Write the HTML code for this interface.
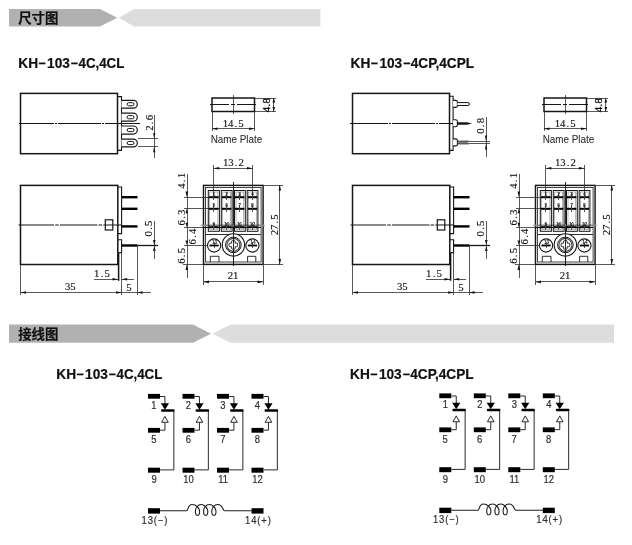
<!DOCTYPE html>
<html lang="zh"><head><meta charset="utf-8"><title>KH-103 尺寸图 接线图</title>
<style>html,body{margin:0;padding:0;background:#fff}body{width:632px;height:545px;overflow:hidden}svg{display:block;will-change:transform}</style></head><body>
<svg width="632" height="545" viewBox="0 0 632 545">
<rect width="632" height="545" fill="#fff"/>
<polygon points="9,9 100,9 117.3,17.8 100,26.6 9,26.6" fill="#b1b1b1"/>
<polygon points="118.8,17.8 134,9 320.4,9 320.4,26.6 134,26.6" fill="#dcdddd"/>
<text x="18.2" y="22.6" font-family='"Liberation Sans", "Noto Sans CJK SC", sans-serif' font-size="13.4" font-weight="bold" text-anchor="start" fill="#111"  stroke="#111" stroke-width="0.2">尺寸图</text>
<polygon points="9,324.6 193,324.6 211,333.70000000000005 193,342.8 9,342.8" fill="#b1b1b1"/>
<polygon points="212.5,333.70000000000005 230.5,324.6 614,324.6 614,342.8 230.5,342.8" fill="#dcdddd"/>
<text x="18.2" y="338.8" font-family='"Liberation Sans", "Noto Sans CJK SC", sans-serif' font-size="13.4" font-weight="bold" text-anchor="start" fill="#111"  stroke="#111" stroke-width="0.2">接线图</text>
<text x="18.3" y="68" font-family='"Liberation Sans", sans-serif' font-size="14" font-weight="bold" text-anchor="start" fill="#111"  textLength="19.8" lengthAdjust="spacingAndGlyphs" stroke="#111" stroke-width="0.2">KH</text>
<text x="38.2" y="68" font-family='"Liberation Sans", sans-serif' font-size="14" font-weight="bold" text-anchor="start" fill="#111"  textLength="7.4" lengthAdjust="spacingAndGlyphs" stroke="#111" stroke-width="0.2">−</text>
<text x="47.1" y="68" font-family='"Liberation Sans", sans-serif' font-size="14" font-weight="bold" text-anchor="start" fill="#111"  textLength="22.8" lengthAdjust="spacingAndGlyphs" stroke="#111" stroke-width="0.2">103</text>
<text x="70.6" y="68" font-family='"Liberation Sans", sans-serif' font-size="14" font-weight="bold" text-anchor="start" fill="#111"  textLength="7.4" lengthAdjust="spacingAndGlyphs" stroke="#111" stroke-width="0.2">−</text>
<text x="78.5" y="68" font-family='"Liberation Sans", sans-serif' font-size="14" font-weight="bold" text-anchor="start" fill="#111"  textLength="45.8" lengthAdjust="spacingAndGlyphs" stroke="#111" stroke-width="0.2">4C,4CL</text>
<text x="350.6" y="67.8" font-family='"Liberation Sans", sans-serif' font-size="14" font-weight="bold" text-anchor="start" fill="#111"  textLength="19.8" lengthAdjust="spacingAndGlyphs" stroke="#111" stroke-width="0.2">KH</text>
<text x="370.5" y="67.8" font-family='"Liberation Sans", sans-serif' font-size="14" font-weight="bold" text-anchor="start" fill="#111"  textLength="7.4" lengthAdjust="spacingAndGlyphs" stroke="#111" stroke-width="0.2">−</text>
<text x="379.40000000000003" y="67.8" font-family='"Liberation Sans", sans-serif' font-size="14" font-weight="bold" text-anchor="start" fill="#111"  textLength="22.8" lengthAdjust="spacingAndGlyphs" stroke="#111" stroke-width="0.2">103</text>
<text x="402.90000000000003" y="67.8" font-family='"Liberation Sans", sans-serif' font-size="14" font-weight="bold" text-anchor="start" fill="#111"  textLength="7.4" lengthAdjust="spacingAndGlyphs" stroke="#111" stroke-width="0.2">−</text>
<text x="410.8" y="67.8" font-family='"Liberation Sans", sans-serif' font-size="14" font-weight="bold" text-anchor="start" fill="#111"  textLength="63.3" lengthAdjust="spacingAndGlyphs" stroke="#111" stroke-width="0.2">4CP,4CPL</text>
<text x="56.3" y="379.0" font-family='"Liberation Sans", sans-serif' font-size="14" font-weight="bold" text-anchor="start" fill="#111"  textLength="19.8" lengthAdjust="spacingAndGlyphs" stroke="#111" stroke-width="0.2">KH</text>
<text x="76.2" y="379.0" font-family='"Liberation Sans", sans-serif' font-size="14" font-weight="bold" text-anchor="start" fill="#111"  textLength="7.4" lengthAdjust="spacingAndGlyphs" stroke="#111" stroke-width="0.2">−</text>
<text x="85.1" y="379.0" font-family='"Liberation Sans", sans-serif' font-size="14" font-weight="bold" text-anchor="start" fill="#111"  textLength="22.8" lengthAdjust="spacingAndGlyphs" stroke="#111" stroke-width="0.2">103</text>
<text x="108.6" y="379.0" font-family='"Liberation Sans", sans-serif' font-size="14" font-weight="bold" text-anchor="start" fill="#111"  textLength="7.4" lengthAdjust="spacingAndGlyphs" stroke="#111" stroke-width="0.2">−</text>
<text x="116.5" y="379.0" font-family='"Liberation Sans", sans-serif' font-size="14" font-weight="bold" text-anchor="start" fill="#111"  textLength="45.8" lengthAdjust="spacingAndGlyphs" stroke="#111" stroke-width="0.2">4C,4CL</text>
<text x="350.1" y="379.2" font-family='"Liberation Sans", sans-serif' font-size="14" font-weight="bold" text-anchor="start" fill="#111"  textLength="19.8" lengthAdjust="spacingAndGlyphs" stroke="#111" stroke-width="0.2">KH</text>
<text x="370.0" y="379.2" font-family='"Liberation Sans", sans-serif' font-size="14" font-weight="bold" text-anchor="start" fill="#111"  textLength="7.4" lengthAdjust="spacingAndGlyphs" stroke="#111" stroke-width="0.2">−</text>
<text x="378.90000000000003" y="379.2" font-family='"Liberation Sans", sans-serif' font-size="14" font-weight="bold" text-anchor="start" fill="#111"  textLength="22.8" lengthAdjust="spacingAndGlyphs" stroke="#111" stroke-width="0.2">103</text>
<text x="402.40000000000003" y="379.2" font-family='"Liberation Sans", sans-serif' font-size="14" font-weight="bold" text-anchor="start" fill="#111"  textLength="7.4" lengthAdjust="spacingAndGlyphs" stroke="#111" stroke-width="0.2">−</text>
<text x="410.3" y="379.2" font-family='"Liberation Sans", sans-serif' font-size="14" font-weight="bold" text-anchor="start" fill="#111"  textLength="63.3" lengthAdjust="spacingAndGlyphs" stroke="#111" stroke-width="0.2">4CP,4CPL</text>
<g>
<rect x="20.5" y="93.4" width="97" height="60.3" fill="none" stroke="#161616" stroke-width="1.5" rx="0"/>
<line x1="18.5" y1="123.5" x2="140" y2="123.5" stroke="#161616" stroke-width="1.0" stroke-dasharray="36 1 2 1 42.5 1 2 1 60" shape-rendering="crispEdges"/>
<path d="M117.5,96.6 H121.5 V150.4 H117.5" fill="none" stroke="#161616" stroke-width="1.1"/>
<path d="M121.5,100.3 H133.4 A3.8999999999999986,3.8999999999999986 0 0 1 133.4,108.1 H121.5" fill="#fff" stroke="#161616" stroke-width="1.2"/>
<rect x="127.1" y="102.64999999999999" width="6.9" height="3.1" fill="none" stroke="#161616" stroke-width="1.0" rx="1.55"/>
<path d="M121.5,113.2 H133.3 A4.0,4.0 0 0 1 133.3,121.2 H121.5" fill="#fff" stroke="#161616" stroke-width="1.2"/>
<rect x="127.1" y="115.65" width="6.9" height="3.1" fill="none" stroke="#161616" stroke-width="1.0" rx="1.55"/>
<path d="M121.5,126 H133.25 A4.049999999999997,4.049999999999997 0 0 1 133.25,134.1 H121.5" fill="#fff" stroke="#161616" stroke-width="1.2"/>
<rect x="127.1" y="128.5" width="6.9" height="3.1" fill="none" stroke="#161616" stroke-width="1.0" rx="1.55"/>
<path d="M121.5,139.1 H133.4 A3.9000000000000057,3.9000000000000057 0 0 1 133.4,146.9 H121.5" fill="#fff" stroke="#161616" stroke-width="1.2"/>
<rect x="127.1" y="141.45" width="6.9" height="3.1" fill="none" stroke="#161616" stroke-width="1.0" rx="1.55"/>
<line x1="137.5" y1="138.7" x2="158" y2="138.7" stroke="#2e2e2e" stroke-width="0.8"  shape-rendering="crispEdges"/>
<line x1="137.5" y1="146.5" x2="158" y2="146.5" stroke="#2e2e2e" stroke-width="0.8"  shape-rendering="crispEdges"/>
<line x1="154.2" y1="114.5" x2="154.2" y2="158.4" stroke="#2e2e2e" stroke-width="0.8"  shape-rendering="crispEdges"/>
<polygon points="154.2,138.7 153.1,132.89999999999998 155.29999999999998,132.89999999999998" fill="#111"/>
<polygon points="154.2,146.5 153.1,152.3 155.29999999999998,152.3" fill="#111"/>
<text x="147.40 152.60 157.80" y="122.8" font-family='"Liberation Serif", serif' font-size="10.8" text-anchor="middle" fill="#111" stroke="#111" stroke-width="0.13" transform="rotate(-90 152.6 122.8)">2.6</text>
<rect x="20.5" y="185.4" width="97.3" height="79.1" fill="none" stroke="#161616" stroke-width="1.5" rx="0"/>
<line x1="18.5" y1="225" x2="121" y2="225" stroke="#161616" stroke-width="1.1" stroke-dasharray="35.5 1.2 3.5 1.2 37.5 1.2 3.5 1.2 40"/>
<rect x="105.3" y="219.8" width="7.5" height="10.2" fill="none" stroke="#161616" stroke-width="1.2" rx="0"/>
<path d="M117.8,187 H121.6 V233.6 H117.8" fill="none" stroke="#161616" stroke-width="1.1"/>
<path d="M117.8,239.8 H121.6 V252.6 H119" fill="none" stroke="#161616" stroke-width="1.1"/>
<line x1="121.6" y1="197.2" x2="137.5" y2="197.2" stroke="#000" stroke-width="2.4" />
<line x1="121.6" y1="208.8" x2="137.5" y2="208.8" stroke="#000" stroke-width="2.4" />
<line x1="121.6" y1="226.4" x2="137.5" y2="226.4" stroke="#000" stroke-width="2.4" />
<line x1="121.6" y1="245.5" x2="137.5" y2="245.5" stroke="#000" stroke-width="2.4" />
<line x1="137.5" y1="245.5" x2="158" y2="245.5" stroke="#161616" stroke-width="1.3" />
<line x1="154.3" y1="221" x2="154.3" y2="258.8" stroke="#2e2e2e" stroke-width="0.8"  shape-rendering="crispEdges"/>
<polygon points="154.3,244.9 153.0,239.9 155.60000000000002,239.9" fill="#111"/>
<polygon points="154.3,246.1 153.0,251.1 155.60000000000002,251.1" fill="#111"/>
<text x="146.40 151.60 156.80" y="228.5" font-family='"Liberation Serif", serif' font-size="10.8" text-anchor="middle" fill="#111" stroke="#111" stroke-width="0.13" transform="rotate(-90 151.6 228.5)">0.5</text>
<line x1="118.6" y1="252.5" x2="118.6" y2="280.8" stroke="#161616" stroke-width="1.5" />
<line x1="121.2" y1="252" x2="121.2" y2="295" stroke="#2e2e2e" stroke-width="0.8"  shape-rendering="crispEdges"/>
<line x1="93.8" y1="279.3" x2="118" y2="279.3" stroke="#2e2e2e" stroke-width="0.8"  shape-rendering="crispEdges"/>
<polygon points="118,279.3 112.5,278.0 112.5,280.6" fill="#111"/>
<line x1="121.7" y1="279.3" x2="133.8" y2="279.3" stroke="#2e2e2e" stroke-width="0.8"  shape-rendering="crispEdges"/>
<polygon points="121.7,279.3 127.2,278.0 127.2,280.6" fill="#111"/>
<text x="96.80 102.00 107.20" y="277" font-family='"Liberation Serif", serif' font-size="10.8" text-anchor="middle" fill="#111" stroke="#111" stroke-width="0.13">1.5</text>
<line x1="20.5" y1="264.5" x2="20.5" y2="295" stroke="#2e2e2e" stroke-width="0.8"  shape-rendering="crispEdges"/>
<line x1="20.5" y1="292.5" x2="121.7" y2="292.5" stroke="#2e2e2e" stroke-width="0.8"  shape-rendering="crispEdges"/>
<polygon points="20.5,292.5 26.0,291.2 26.0,293.8" fill="#111"/>
<polygon points="121.7,292.5 116.2,291.2 116.2,293.8" fill="#111"/>
<text x="67.70 72.90" y="290.4" font-family='"Liberation Serif", serif' font-size="10.8" text-anchor="middle" fill="#111" stroke="#111" stroke-width="0.13">35</text>
<line x1="137.1" y1="245" x2="137.1" y2="295" stroke="#2e2e2e" stroke-width="0.8"  shape-rendering="crispEdges"/>
<line x1="121.7" y1="292.5" x2="151" y2="292.5" stroke="#2e2e2e" stroke-width="0.8"  shape-rendering="crispEdges"/>
<polygon points="137.1,292.5 142.6,291.2 142.6,293.8" fill="#111"/>
<text x="129.00" y="290.6" font-family='"Liberation Serif", serif' font-size="10.8" text-anchor="middle" fill="#111" stroke="#111" stroke-width="0.13">5</text>
<rect x="212" y="98" width="42.5" height="13.5" fill="none" stroke="#161616" stroke-width="1.5" rx="0"/>
<line x1="210" y1="104.5" x2="257" y2="104.5" stroke="#161616" stroke-width="1.0" stroke-dasharray="19 2 3.5 2" shape-rendering="crispEdges"/>
<line x1="233.3" y1="95" x2="233.3" y2="113.8" stroke="#161616" stroke-width="0.7"  shape-rendering="crispEdges"/>
<line x1="254.5" y1="98" x2="275.5" y2="98" stroke="#2e2e2e" stroke-width="0.8"  shape-rendering="crispEdges"/>
<line x1="254.5" y1="111.5" x2="275.5" y2="111.5" stroke="#2e2e2e" stroke-width="0.8"  shape-rendering="crispEdges"/>
<line x1="273.8" y1="98" x2="273.8" y2="111.5" stroke="#2e2e2e" stroke-width="0.8"  shape-rendering="crispEdges"/>
<polygon points="273.8,98 272.5,102.5 275.1,102.5" fill="#111"/>
<polygon points="273.8,111.5 272.5,107.0 275.1,107.0" fill="#111"/>
<text x="265.50 269.90 274.30" y="105.1" font-family='"Liberation Serif", serif' font-size="10.8" text-anchor="middle" fill="#111" stroke="#111" stroke-width="0.35" transform="rotate(-90 269.9 105.1)">4.8</text>
<line x1="212" y1="111.5" x2="212" y2="131" stroke="#2e2e2e" stroke-width="0.8"  shape-rendering="crispEdges"/>
<line x1="254.5" y1="111.5" x2="254.5" y2="131" stroke="#2e2e2e" stroke-width="0.8"  shape-rendering="crispEdges"/>
<line x1="212" y1="128.8" x2="254.5" y2="128.8" stroke="#2e2e2e" stroke-width="0.8"  shape-rendering="crispEdges"/>
<polygon points="212,128.8 217.5,127.50000000000001 217.5,130.10000000000002" fill="#111"/>
<polygon points="254.5,128.8 249.0,127.50000000000001 249.0,130.10000000000002" fill="#111"/>
<text x="225.40 230.60 235.80 241.00" y="126.6" font-family='"Liberation Serif", serif' font-size="10.8" text-anchor="middle" fill="#111" stroke="#111" stroke-width="0.13">14.5</text>
<text x="236.5" y="142.7" font-family='"Liberation Sans", sans-serif' font-size="10.4" font-weight="normal" text-anchor="middle" fill="#333"  textLength="51.6" lengthAdjust="spacingAndGlyphs" stroke="#333" stroke-width="0.1">Name Plate</text>
<rect x="203.5" y="185.4" width="59.6" height="79.0" fill="none" stroke="#161616" stroke-width="1.45" rx="0"/>
<rect x="205.5" y="187.5" width="55.6" height="74.5" fill="none" stroke="#161616" stroke-width="0.8" rx="0"/>
<line x1="213.8" y1="165" x2="213.8" y2="196" stroke="#2e2e2e" stroke-width="0.8"  shape-rendering="crispEdges"/>
<line x1="252.5" y1="165" x2="252.5" y2="196" stroke="#2e2e2e" stroke-width="0.8"  shape-rendering="crispEdges"/>
<line x1="213.8" y1="168.2" x2="252.5" y2="168.2" stroke="#2e2e2e" stroke-width="0.8"  shape-rendering="crispEdges"/>
<polygon points="213.8,168.2 219.3,166.89999999999998 219.3,169.5" fill="#111"/>
<polygon points="252.5,168.2 247.0,166.89999999999998 247.0,169.5" fill="#111"/>
<text x="225.70 230.90 236.10 241.30" y="165.5" font-family='"Liberation Serif", serif' font-size="10.8" text-anchor="middle" fill="#111" stroke="#111" stroke-width="0.13">13.2</text>
<line x1="233.3" y1="182" x2="233.3" y2="266" stroke="#161616" stroke-width="0.9"  shape-rendering="crispEdges"/>
<line x1="263.5" y1="185.3" x2="283" y2="185.3" stroke="#2e2e2e" stroke-width="0.8"  shape-rendering="crispEdges"/>
<line x1="263.5" y1="264.4" x2="283" y2="264.4" stroke="#2e2e2e" stroke-width="0.8"  shape-rendering="crispEdges"/>
<line x1="279.8" y1="185" x2="279.8" y2="264.5" stroke="#2e2e2e" stroke-width="0.8"  shape-rendering="crispEdges"/>
<polygon points="279.8,185 278.5,190.5 281.1,190.5" fill="#111"/>
<polygon points="279.8,264.5 278.5,259.0 281.1,259.0" fill="#111"/>
<text x="270.20 275.40 280.60 285.80" y="224.8" font-family='"Liberation Serif", serif' font-size="10.8" text-anchor="middle" fill="#111" stroke="#111" stroke-width="0.13" transform="rotate(-90 278 224.8)">27.5</text>
<line x1="203.5" y1="264.5" x2="203.5" y2="285" stroke="#2e2e2e" stroke-width="0.8"  shape-rendering="crispEdges"/>
<line x1="263" y1="264.5" x2="263" y2="285" stroke="#2e2e2e" stroke-width="0.8"  shape-rendering="crispEdges"/>
<line x1="203.5" y1="281.9" x2="263" y2="281.9" stroke="#2e2e2e" stroke-width="0.8"  shape-rendering="crispEdges"/>
<polygon points="203.5,281.9 209.0,280.59999999999997 209.0,283.2" fill="#111"/>
<polygon points="263,281.9 257.5,280.59999999999997 257.5,283.2" fill="#111"/>
<text x="230.50 235.70" y="279.2" font-family='"Liberation Serif", serif' font-size="10.8" text-anchor="middle" fill="#111" stroke="#111" stroke-width="0.13">21</text>
<line x1="187" y1="174" x2="187" y2="277.5" stroke="#2e2e2e" stroke-width="0.8"  shape-rendering="crispEdges"/>
<line x1="184" y1="197" x2="220" y2="197" stroke="#2e2e2e" stroke-width="0.8"  shape-rendering="crispEdges"/>
<line x1="184" y1="208.8" x2="220" y2="208.8" stroke="#2e2e2e" stroke-width="0.8"  shape-rendering="crispEdges"/>
<line x1="183.5" y1="227.2" x2="203" y2="227.2" stroke="#2e2e2e" stroke-width="0.8"  shape-rendering="crispEdges"/>
<line x1="201.5" y1="225.3" x2="264.5" y2="225.3" stroke="#8a8a8a" stroke-width="1.8" />
<line x1="203" y1="227.2" x2="261" y2="227.2" stroke="#111" stroke-width="1.0"  shape-rendering="crispEdges"/>
<line x1="184" y1="245" x2="218" y2="245" stroke="#2e2e2e" stroke-width="0.8"  shape-rendering="crispEdges"/>
<line x1="183" y1="264.5" x2="203" y2="264.5" stroke="#2e2e2e" stroke-width="0.8"  shape-rendering="crispEdges"/>
<polygon points="186.8,197 185.5,191.5 188.10000000000002,191.5" fill="#111"/>
<polygon points="186.8,208.8 185.5,213.3 188.10000000000002,213.3" fill="#111"/>
<polygon points="186.8,227.2 185.5,222.7 188.10000000000002,222.7" fill="#111"/>
<polygon points="186.8,245 185.5,240.5 188.10000000000002,240.5" fill="#111"/>
<polygon points="186.8,264.5 185.5,270.0 188.10000000000002,270.0" fill="#111"/>
<text x="179.80 185.00 190.20" y="180.8" font-family='"Liberation Serif", serif' font-size="10.8" text-anchor="middle" fill="#111" stroke="#111" stroke-width="0.13" transform="rotate(-90 185 180.8)">4.1</text>
<text x="179.80 185.00 190.20" y="217.5" font-family='"Liberation Serif", serif' font-size="10.8" text-anchor="middle" fill="#111" stroke="#111" stroke-width="0.13" transform="rotate(-90 185 217.5)">6.3</text>
<text x="190.80 196.00 201.20" y="236.5" font-family='"Liberation Serif", serif' font-size="10.8" text-anchor="middle" fill="#111" stroke="#111" stroke-width="0.13" transform="rotate(-90 196 236.5)">6.4</text>
<text x="179.80 185.00 190.20" y="255.8" font-family='"Liberation Serif", serif' font-size="10.8" text-anchor="middle" fill="#111" stroke="#111" stroke-width="0.13" transform="rotate(-90 185 255.8)">6.5</text>
<rect x="208.3" y="190.5" width="11.099999999999994" height="40.8" fill="none" stroke="#161616" stroke-width="1.0" rx="0"/>
<rect x="209.8" y="192" width="8.099999999999994" height="37.8" fill="none" stroke="#6a6a6a" stroke-width="0.5" rx="0"/>
<rect x="221.3" y="190.5" width="10.799999999999983" height="40.8" fill="none" stroke="#161616" stroke-width="1.0" rx="0"/>
<rect x="222.8" y="192" width="7.799999999999983" height="37.8" fill="none" stroke="#6a6a6a" stroke-width="0.5" rx="0"/>
<rect x="234.5" y="190.5" width="10.800000000000011" height="40.8" fill="none" stroke="#161616" stroke-width="1.0" rx="0"/>
<rect x="236.0" y="192" width="7.800000000000011" height="37.8" fill="none" stroke="#6a6a6a" stroke-width="0.5" rx="0"/>
<rect x="247.2" y="190.5" width="10.699999999999989" height="40.8" fill="none" stroke="#161616" stroke-width="1.0" rx="0"/>
<rect x="248.7" y="192" width="7.699999999999989" height="37.8" fill="none" stroke="#6a6a6a" stroke-width="0.5" rx="0"/>
<line x1="209.10000000000002" y1="197.2" x2="218.5" y2="197.2" stroke="#000" stroke-width="2.0" />
<line x1="213.8" y1="193.39999999999998" x2="213.8" y2="200.2" stroke="#444" stroke-width="0.9"  shape-rendering="crispEdges"/>
<text x="213.8" y="195.6" font-family='"Liberation Sans", sans-serif' font-size="5" font-weight="bold" text-anchor="middle" fill="#222" >1</text>
<line x1="222.0" y1="197.2" x2="231.39999999999998" y2="197.2" stroke="#000" stroke-width="2.0" />
<line x1="226.7" y1="193.39999999999998" x2="226.7" y2="200.2" stroke="#444" stroke-width="0.9"  shape-rendering="crispEdges"/>
<text x="226.7" y="195.6" font-family='"Liberation Sans", sans-serif' font-size="5" font-weight="bold" text-anchor="middle" fill="#222" >2</text>
<line x1="235.0" y1="197.2" x2="244.39999999999998" y2="197.2" stroke="#000" stroke-width="2.0" />
<line x1="239.7" y1="193.39999999999998" x2="239.7" y2="200.2" stroke="#444" stroke-width="0.9"  shape-rendering="crispEdges"/>
<text x="239.7" y="195.6" font-family='"Liberation Sans", sans-serif' font-size="5" font-weight="bold" text-anchor="middle" fill="#222" >3</text>
<line x1="247.8" y1="197.2" x2="257.2" y2="197.2" stroke="#000" stroke-width="2.0" />
<line x1="252.5" y1="193.39999999999998" x2="252.5" y2="200.2" stroke="#444" stroke-width="0.9"  shape-rendering="crispEdges"/>
<text x="252.5" y="195.6" font-family='"Liberation Sans", sans-serif' font-size="5" font-weight="bold" text-anchor="middle" fill="#222" >4</text>
<line x1="209.10000000000002" y1="208.8" x2="218.5" y2="208.8" stroke="#000" stroke-width="2.0" />
<line x1="213.8" y1="205.0" x2="213.8" y2="211.8" stroke="#444" stroke-width="0.9"  shape-rendering="crispEdges"/>
<text x="213.8" y="207.20000000000002" font-family='"Liberation Sans", sans-serif' font-size="5" font-weight="bold" text-anchor="middle" fill="#222" >5</text>
<line x1="222.0" y1="208.8" x2="231.39999999999998" y2="208.8" stroke="#000" stroke-width="2.0" />
<line x1="226.7" y1="205.0" x2="226.7" y2="211.8" stroke="#444" stroke-width="0.9"  shape-rendering="crispEdges"/>
<text x="226.7" y="207.20000000000002" font-family='"Liberation Sans", sans-serif' font-size="5" font-weight="bold" text-anchor="middle" fill="#222" >6</text>
<line x1="235.0" y1="208.8" x2="244.39999999999998" y2="208.8" stroke="#000" stroke-width="2.0" />
<line x1="239.7" y1="205.0" x2="239.7" y2="211.8" stroke="#444" stroke-width="0.9"  shape-rendering="crispEdges"/>
<text x="239.7" y="207.20000000000002" font-family='"Liberation Sans", sans-serif' font-size="5" font-weight="bold" text-anchor="middle" fill="#222" >7</text>
<line x1="247.8" y1="208.8" x2="257.2" y2="208.8" stroke="#000" stroke-width="2.0" />
<line x1="252.5" y1="205.0" x2="252.5" y2="211.8" stroke="#444" stroke-width="0.9"  shape-rendering="crispEdges"/>
<text x="252.5" y="207.20000000000002" font-family='"Liberation Sans", sans-serif' font-size="5" font-weight="bold" text-anchor="middle" fill="#222" >8</text>
<line x1="209.10000000000002" y1="227.2" x2="218.5" y2="227.2" stroke="#000" stroke-width="2.0" />
<line x1="213.8" y1="223.39999999999998" x2="213.8" y2="230.2" stroke="#444" stroke-width="0.9"  shape-rendering="crispEdges"/>
<text x="213.8" y="225.6" font-family='"Liberation Sans", sans-serif' font-size="5" font-weight="bold" text-anchor="middle" fill="#222" >9</text>
<line x1="222.0" y1="227.2" x2="231.39999999999998" y2="227.2" stroke="#000" stroke-width="2.0" />
<line x1="226.7" y1="223.39999999999998" x2="226.7" y2="230.2" stroke="#444" stroke-width="0.9"  shape-rendering="crispEdges"/>
<text x="226.7" y="225.6" font-family='"Liberation Sans", sans-serif' font-size="5" font-weight="bold" text-anchor="middle" fill="#222" >10</text>
<line x1="235.0" y1="227.2" x2="244.39999999999998" y2="227.2" stroke="#000" stroke-width="2.0" />
<line x1="239.7" y1="223.39999999999998" x2="239.7" y2="230.2" stroke="#444" stroke-width="0.9"  shape-rendering="crispEdges"/>
<text x="239.7" y="225.6" font-family='"Liberation Sans", sans-serif' font-size="5" font-weight="bold" text-anchor="middle" fill="#222" >11</text>
<line x1="247.8" y1="227.2" x2="257.2" y2="227.2" stroke="#000" stroke-width="2.0" />
<line x1="252.5" y1="223.39999999999998" x2="252.5" y2="230.2" stroke="#444" stroke-width="0.9"  shape-rendering="crispEdges"/>
<text x="252.5" y="225.6" font-family='"Liberation Sans", sans-serif' font-size="5" font-weight="bold" text-anchor="middle" fill="#222" >12</text>
<line x1="205.6" y1="234.1" x2="260.9" y2="234.1" stroke="#161616" stroke-width="0.9"  shape-rendering="crispEdges"/>
<circle cx="214.1" cy="245.5" r="6.6" fill="#fff" stroke="#161616" stroke-width="1.1"/>
<line x1="209.5" y1="245.5" x2="218.7" y2="245.5" stroke="#000" stroke-width="1.8" />
<line x1="214.1" y1="242.3" x2="214.1" y2="248.2" stroke="#161616" stroke-width="0.7"  shape-rendering="crispEdges"/>
<text x="214.6" y="244.2" font-family='"Liberation Sans", sans-serif' font-size="4.6" font-weight="bold" text-anchor="middle" fill="#222" >13</text>
<circle cx="252.4" cy="245.5" r="6.6" fill="#fff" stroke="#161616" stroke-width="1.1"/>
<line x1="247.8" y1="245.5" x2="257.0" y2="245.5" stroke="#000" stroke-width="1.8" />
<line x1="252.4" y1="242.3" x2="252.4" y2="248.2" stroke="#161616" stroke-width="0.7"  shape-rendering="crispEdges"/>
<text x="252.9" y="244.2" font-family='"Liberation Sans", sans-serif' font-size="4.6" font-weight="bold" text-anchor="middle" fill="#222" >14</text>
<circle cx="233.4" cy="244.9" r="11.2" fill="#fff" stroke="#161616" stroke-width="1.1"/>
<circle cx="233.4" cy="244.9" r="7.8" fill="none" stroke="#161616" stroke-width="1.0"/>
<circle cx="233.4" cy="244.9" r="6.5" fill="none" stroke="#444" stroke-width="1.1"/>
<path d="M232.5,240.6 H234.3 Q235.20000000000002,240.6 235.20000000000002,241.5 V243.1 H236.8 Q237.70000000000002,243.1 237.70000000000002,244.0 V245.8 Q237.70000000000002,246.70000000000002 236.8,246.70000000000002 H235.20000000000002 V248.3 Q235.20000000000002,249.20000000000002 234.3,249.20000000000002 H232.5 Q231.6,249.20000000000002 231.6,248.3 V246.70000000000002 H230.0 Q229.1,246.70000000000002 229.1,245.8 V244.0 Q229.1,243.1 230.0,243.1 H231.6 V241.5 Q231.6,240.6 232.5,240.6 Z" fill="#fff" stroke="#161616" stroke-width="0.9"/>
<line x1="233.3" y1="231" x2="233.3" y2="266" stroke="#161616" stroke-width="0.9"  shape-rendering="crispEdges"/>
<path d="M210.3,262 V256.3 H219 V262 M247.6,262 V256.3 H255.8 V262" fill="none" stroke="#161616" stroke-width="0.9"/>
</g>
<g>
<rect x="352.5" y="93.4" width="97" height="60.3" fill="none" stroke="#161616" stroke-width="1.5" rx="0"/>
<line x1="349.5" y1="123.5" x2="470" y2="123.5" stroke="#161616" stroke-width="1.0" stroke-dasharray="38.5 1 2 1 42.5 1 2 1 60" shape-rendering="crispEdges"/>
<path d="M449.5,96.2 H453.1 V150.4 H449.5" fill="none" stroke="#161616" stroke-width="1.1"/>
<path d="M453.1,100.4 H455.5 Q457.4,100.4 457.4,102.10000000000001 V105.7 Q457.4,107.4 455.5,107.4 H453.1" fill="#fff" stroke="#161616" stroke-width="1.1"/>
<path d="M453.1,119.8 H455.5 Q457.4,119.8 457.4,121.5 V125.1 Q457.4,126.8 455.5,126.8 H453.1" fill="#fff" stroke="#161616" stroke-width="1.1"/>
<path d="M453.1,138.9 H455.5 Q457.4,138.9 457.4,140.6 V144.20000000000002 Q457.4,145.9 455.5,145.9 H453.1" fill="#fff" stroke="#161616" stroke-width="1.1"/>
<path d="M457.4,102.6 H468 A1.45,1.45 0 0 1 468,105.5 H457.4" fill="#fff" stroke="#161616" stroke-width="1"/>
<path d="M457.4,122.2 H467 L472,123.5 L467,124.8 H457.4 Z" fill="#161616"/>
<path d="M457.4,141.2 H469 M457.4,143.8 H469" fill="none" stroke="#161616" stroke-width="1"/>
<line x1="457.4" y1="142.5" x2="468" y2="142.5" stroke="#777" stroke-width="1.2" />
<line x1="469" y1="141.2" x2="490" y2="141.2" stroke="#2e2e2e" stroke-width="0.8"  shape-rendering="crispEdges"/>
<line x1="469" y1="143.8" x2="490" y2="143.8" stroke="#2e2e2e" stroke-width="0.8"  shape-rendering="crispEdges"/>
<line x1="486" y1="116.5" x2="486" y2="157" stroke="#2e2e2e" stroke-width="0.8"  shape-rendering="crispEdges"/>
<polygon points="486,141.2 484.9,135.39999999999998 487.1,135.39999999999998" fill="#111"/>
<polygon points="486,143.8 484.9,149.60000000000002 487.1,149.60000000000002" fill="#111"/>
<text x="478.80 484.00 489.20" y="125.8" font-family='"Liberation Serif", serif' font-size="10.8" text-anchor="middle" fill="#111" stroke="#111" stroke-width="0.13" transform="rotate(-90 484 125.8)">0.8</text>
</g>
<g transform="translate(332,0)">
<rect x="20.5" y="185.4" width="97.3" height="79.1" fill="none" stroke="#161616" stroke-width="1.5" rx="0"/>
<line x1="18.5" y1="225" x2="121" y2="225" stroke="#161616" stroke-width="1.1" stroke-dasharray="35.5 1.2 3.5 1.2 37.5 1.2 3.5 1.2 40"/>
<rect x="105.3" y="219.8" width="7.5" height="10.2" fill="none" stroke="#161616" stroke-width="1.2" rx="0"/>
<path d="M117.8,187 H121.6 V233.6 H117.8" fill="none" stroke="#161616" stroke-width="1.1"/>
<path d="M117.8,239.8 H121.6 V252.6 H119" fill="none" stroke="#161616" stroke-width="1.1"/>
<line x1="121.6" y1="197.2" x2="137.5" y2="197.2" stroke="#000" stroke-width="2.4" />
<line x1="121.6" y1="208.8" x2="137.5" y2="208.8" stroke="#000" stroke-width="2.4" />
<line x1="121.6" y1="226.4" x2="137.5" y2="226.4" stroke="#000" stroke-width="2.4" />
<line x1="121.6" y1="245.5" x2="137.5" y2="245.5" stroke="#000" stroke-width="2.4" />
<line x1="137.5" y1="245.5" x2="158" y2="245.5" stroke="#161616" stroke-width="1.3" />
<line x1="154.3" y1="221" x2="154.3" y2="258.8" stroke="#2e2e2e" stroke-width="0.8"  shape-rendering="crispEdges"/>
<polygon points="154.3,244.9 153.0,239.9 155.60000000000002,239.9" fill="#111"/>
<polygon points="154.3,246.1 153.0,251.1 155.60000000000002,251.1" fill="#111"/>
<text x="146.40 151.60 156.80" y="228.5" font-family='"Liberation Serif", serif' font-size="10.8" text-anchor="middle" fill="#111" stroke="#111" stroke-width="0.13" transform="rotate(-90 151.6 228.5)">0.5</text>
<line x1="118.6" y1="252.5" x2="118.6" y2="280.8" stroke="#161616" stroke-width="1.5" />
<line x1="121.2" y1="252" x2="121.2" y2="295" stroke="#2e2e2e" stroke-width="0.8"  shape-rendering="crispEdges"/>
<line x1="93.8" y1="279.3" x2="118" y2="279.3" stroke="#2e2e2e" stroke-width="0.8"  shape-rendering="crispEdges"/>
<polygon points="118,279.3 112.5,278.0 112.5,280.6" fill="#111"/>
<line x1="121.7" y1="279.3" x2="133.8" y2="279.3" stroke="#2e2e2e" stroke-width="0.8"  shape-rendering="crispEdges"/>
<polygon points="121.7,279.3 127.2,278.0 127.2,280.6" fill="#111"/>
<text x="96.80 102.00 107.20" y="277" font-family='"Liberation Serif", serif' font-size="10.8" text-anchor="middle" fill="#111" stroke="#111" stroke-width="0.13">1.5</text>
<line x1="20.5" y1="264.5" x2="20.5" y2="295" stroke="#2e2e2e" stroke-width="0.8"  shape-rendering="crispEdges"/>
<line x1="20.5" y1="292.5" x2="121.7" y2="292.5" stroke="#2e2e2e" stroke-width="0.8"  shape-rendering="crispEdges"/>
<polygon points="20.5,292.5 26.0,291.2 26.0,293.8" fill="#111"/>
<polygon points="121.7,292.5 116.2,291.2 116.2,293.8" fill="#111"/>
<text x="67.70 72.90" y="290.4" font-family='"Liberation Serif", serif' font-size="10.8" text-anchor="middle" fill="#111" stroke="#111" stroke-width="0.13">35</text>
<line x1="137.1" y1="245" x2="137.1" y2="295" stroke="#2e2e2e" stroke-width="0.8"  shape-rendering="crispEdges"/>
<line x1="121.7" y1="292.5" x2="151" y2="292.5" stroke="#2e2e2e" stroke-width="0.8"  shape-rendering="crispEdges"/>
<polygon points="137.1,292.5 142.6,291.2 142.6,293.8" fill="#111"/>
<text x="129.00" y="290.6" font-family='"Liberation Serif", serif' font-size="10.8" text-anchor="middle" fill="#111" stroke="#111" stroke-width="0.13">5</text>
<rect x="212" y="98" width="42.5" height="13.5" fill="none" stroke="#161616" stroke-width="1.5" rx="0"/>
<line x1="210" y1="104.5" x2="257" y2="104.5" stroke="#161616" stroke-width="1.0" stroke-dasharray="19 2 3.5 2" shape-rendering="crispEdges"/>
<line x1="233.3" y1="95" x2="233.3" y2="113.8" stroke="#161616" stroke-width="0.7"  shape-rendering="crispEdges"/>
<line x1="254.5" y1="98" x2="275.5" y2="98" stroke="#2e2e2e" stroke-width="0.8"  shape-rendering="crispEdges"/>
<line x1="254.5" y1="111.5" x2="275.5" y2="111.5" stroke="#2e2e2e" stroke-width="0.8"  shape-rendering="crispEdges"/>
<line x1="273.8" y1="98" x2="273.8" y2="111.5" stroke="#2e2e2e" stroke-width="0.8"  shape-rendering="crispEdges"/>
<polygon points="273.8,98 272.5,102.5 275.1,102.5" fill="#111"/>
<polygon points="273.8,111.5 272.5,107.0 275.1,107.0" fill="#111"/>
<text x="265.50 269.90 274.30" y="105.1" font-family='"Liberation Serif", serif' font-size="10.8" text-anchor="middle" fill="#111" stroke="#111" stroke-width="0.35" transform="rotate(-90 269.9 105.1)">4.8</text>
<line x1="212" y1="111.5" x2="212" y2="131" stroke="#2e2e2e" stroke-width="0.8"  shape-rendering="crispEdges"/>
<line x1="254.5" y1="111.5" x2="254.5" y2="131" stroke="#2e2e2e" stroke-width="0.8"  shape-rendering="crispEdges"/>
<line x1="212" y1="128.8" x2="254.5" y2="128.8" stroke="#2e2e2e" stroke-width="0.8"  shape-rendering="crispEdges"/>
<polygon points="212,128.8 217.5,127.50000000000001 217.5,130.10000000000002" fill="#111"/>
<polygon points="254.5,128.8 249.0,127.50000000000001 249.0,130.10000000000002" fill="#111"/>
<text x="225.40 230.60 235.80 241.00" y="126.6" font-family='"Liberation Serif", serif' font-size="10.8" text-anchor="middle" fill="#111" stroke="#111" stroke-width="0.13">14.5</text>
<text x="236.5" y="142.7" font-family='"Liberation Sans", sans-serif' font-size="10.4" font-weight="normal" text-anchor="middle" fill="#333"  textLength="51.6" lengthAdjust="spacingAndGlyphs" stroke="#333" stroke-width="0.1">Name Plate</text>
<rect x="203.5" y="185.4" width="59.6" height="79.0" fill="none" stroke="#161616" stroke-width="1.45" rx="0"/>
<rect x="205.5" y="187.5" width="55.6" height="74.5" fill="none" stroke="#161616" stroke-width="0.8" rx="0"/>
<line x1="213.8" y1="165" x2="213.8" y2="196" stroke="#2e2e2e" stroke-width="0.8"  shape-rendering="crispEdges"/>
<line x1="252.5" y1="165" x2="252.5" y2="196" stroke="#2e2e2e" stroke-width="0.8"  shape-rendering="crispEdges"/>
<line x1="213.8" y1="168.2" x2="252.5" y2="168.2" stroke="#2e2e2e" stroke-width="0.8"  shape-rendering="crispEdges"/>
<polygon points="213.8,168.2 219.3,166.89999999999998 219.3,169.5" fill="#111"/>
<polygon points="252.5,168.2 247.0,166.89999999999998 247.0,169.5" fill="#111"/>
<text x="225.70 230.90 236.10 241.30" y="165.5" font-family='"Liberation Serif", serif' font-size="10.8" text-anchor="middle" fill="#111" stroke="#111" stroke-width="0.13">13.2</text>
<line x1="233.3" y1="182" x2="233.3" y2="266" stroke="#161616" stroke-width="0.9"  shape-rendering="crispEdges"/>
<line x1="263.5" y1="185.3" x2="283" y2="185.3" stroke="#2e2e2e" stroke-width="0.8"  shape-rendering="crispEdges"/>
<line x1="263.5" y1="264.4" x2="283" y2="264.4" stroke="#2e2e2e" stroke-width="0.8"  shape-rendering="crispEdges"/>
<line x1="279.8" y1="185" x2="279.8" y2="264.5" stroke="#2e2e2e" stroke-width="0.8"  shape-rendering="crispEdges"/>
<polygon points="279.8,185 278.5,190.5 281.1,190.5" fill="#111"/>
<polygon points="279.8,264.5 278.5,259.0 281.1,259.0" fill="#111"/>
<text x="270.20 275.40 280.60 285.80" y="224.8" font-family='"Liberation Serif", serif' font-size="10.8" text-anchor="middle" fill="#111" stroke="#111" stroke-width="0.13" transform="rotate(-90 278 224.8)">27.5</text>
<line x1="203.5" y1="264.5" x2="203.5" y2="285" stroke="#2e2e2e" stroke-width="0.8"  shape-rendering="crispEdges"/>
<line x1="263" y1="264.5" x2="263" y2="285" stroke="#2e2e2e" stroke-width="0.8"  shape-rendering="crispEdges"/>
<line x1="203.5" y1="281.9" x2="263" y2="281.9" stroke="#2e2e2e" stroke-width="0.8"  shape-rendering="crispEdges"/>
<polygon points="203.5,281.9 209.0,280.59999999999997 209.0,283.2" fill="#111"/>
<polygon points="263,281.9 257.5,280.59999999999997 257.5,283.2" fill="#111"/>
<text x="230.50 235.70" y="279.2" font-family='"Liberation Serif", serif' font-size="10.8" text-anchor="middle" fill="#111" stroke="#111" stroke-width="0.13">21</text>
<line x1="187" y1="174" x2="187" y2="277.5" stroke="#2e2e2e" stroke-width="0.8"  shape-rendering="crispEdges"/>
<line x1="184" y1="197" x2="220" y2="197" stroke="#2e2e2e" stroke-width="0.8"  shape-rendering="crispEdges"/>
<line x1="184" y1="208.8" x2="220" y2="208.8" stroke="#2e2e2e" stroke-width="0.8"  shape-rendering="crispEdges"/>
<line x1="183.5" y1="227.2" x2="203" y2="227.2" stroke="#2e2e2e" stroke-width="0.8"  shape-rendering="crispEdges"/>
<line x1="201.5" y1="225.3" x2="264.5" y2="225.3" stroke="#8a8a8a" stroke-width="1.8" />
<line x1="203" y1="227.2" x2="261" y2="227.2" stroke="#111" stroke-width="1.0"  shape-rendering="crispEdges"/>
<line x1="184" y1="245" x2="218" y2="245" stroke="#2e2e2e" stroke-width="0.8"  shape-rendering="crispEdges"/>
<line x1="183" y1="264.5" x2="203" y2="264.5" stroke="#2e2e2e" stroke-width="0.8"  shape-rendering="crispEdges"/>
<polygon points="186.8,197 185.5,191.5 188.10000000000002,191.5" fill="#111"/>
<polygon points="186.8,208.8 185.5,213.3 188.10000000000002,213.3" fill="#111"/>
<polygon points="186.8,227.2 185.5,222.7 188.10000000000002,222.7" fill="#111"/>
<polygon points="186.8,245 185.5,240.5 188.10000000000002,240.5" fill="#111"/>
<polygon points="186.8,264.5 185.5,270.0 188.10000000000002,270.0" fill="#111"/>
<text x="179.80 185.00 190.20" y="180.8" font-family='"Liberation Serif", serif' font-size="10.8" text-anchor="middle" fill="#111" stroke="#111" stroke-width="0.13" transform="rotate(-90 185 180.8)">4.1</text>
<text x="179.80 185.00 190.20" y="217.5" font-family='"Liberation Serif", serif' font-size="10.8" text-anchor="middle" fill="#111" stroke="#111" stroke-width="0.13" transform="rotate(-90 185 217.5)">6.3</text>
<text x="190.80 196.00 201.20" y="236.5" font-family='"Liberation Serif", serif' font-size="10.8" text-anchor="middle" fill="#111" stroke="#111" stroke-width="0.13" transform="rotate(-90 196 236.5)">6.4</text>
<text x="179.80 185.00 190.20" y="255.8" font-family='"Liberation Serif", serif' font-size="10.8" text-anchor="middle" fill="#111" stroke="#111" stroke-width="0.13" transform="rotate(-90 185 255.8)">6.5</text>
<rect x="208.3" y="190.5" width="11.099999999999994" height="40.8" fill="none" stroke="#161616" stroke-width="1.0" rx="0"/>
<rect x="209.8" y="192" width="8.099999999999994" height="37.8" fill="none" stroke="#6a6a6a" stroke-width="0.5" rx="0"/>
<rect x="221.3" y="190.5" width="10.799999999999983" height="40.8" fill="none" stroke="#161616" stroke-width="1.0" rx="0"/>
<rect x="222.8" y="192" width="7.799999999999983" height="37.8" fill="none" stroke="#6a6a6a" stroke-width="0.5" rx="0"/>
<rect x="234.5" y="190.5" width="10.800000000000011" height="40.8" fill="none" stroke="#161616" stroke-width="1.0" rx="0"/>
<rect x="236.0" y="192" width="7.800000000000011" height="37.8" fill="none" stroke="#6a6a6a" stroke-width="0.5" rx="0"/>
<rect x="247.2" y="190.5" width="10.699999999999989" height="40.8" fill="none" stroke="#161616" stroke-width="1.0" rx="0"/>
<rect x="248.7" y="192" width="7.699999999999989" height="37.8" fill="none" stroke="#6a6a6a" stroke-width="0.5" rx="0"/>
<line x1="209.10000000000002" y1="197.2" x2="218.5" y2="197.2" stroke="#000" stroke-width="2.0" />
<line x1="213.8" y1="193.39999999999998" x2="213.8" y2="200.2" stroke="#444" stroke-width="0.9"  shape-rendering="crispEdges"/>
<text x="213.8" y="195.6" font-family='"Liberation Sans", sans-serif' font-size="5" font-weight="bold" text-anchor="middle" fill="#222" >1</text>
<line x1="222.0" y1="197.2" x2="231.39999999999998" y2="197.2" stroke="#000" stroke-width="2.0" />
<line x1="226.7" y1="193.39999999999998" x2="226.7" y2="200.2" stroke="#444" stroke-width="0.9"  shape-rendering="crispEdges"/>
<text x="226.7" y="195.6" font-family='"Liberation Sans", sans-serif' font-size="5" font-weight="bold" text-anchor="middle" fill="#222" >2</text>
<line x1="235.0" y1="197.2" x2="244.39999999999998" y2="197.2" stroke="#000" stroke-width="2.0" />
<line x1="239.7" y1="193.39999999999998" x2="239.7" y2="200.2" stroke="#444" stroke-width="0.9"  shape-rendering="crispEdges"/>
<text x="239.7" y="195.6" font-family='"Liberation Sans", sans-serif' font-size="5" font-weight="bold" text-anchor="middle" fill="#222" >3</text>
<line x1="247.8" y1="197.2" x2="257.2" y2="197.2" stroke="#000" stroke-width="2.0" />
<line x1="252.5" y1="193.39999999999998" x2="252.5" y2="200.2" stroke="#444" stroke-width="0.9"  shape-rendering="crispEdges"/>
<text x="252.5" y="195.6" font-family='"Liberation Sans", sans-serif' font-size="5" font-weight="bold" text-anchor="middle" fill="#222" >4</text>
<line x1="209.10000000000002" y1="208.8" x2="218.5" y2="208.8" stroke="#000" stroke-width="2.0" />
<line x1="213.8" y1="205.0" x2="213.8" y2="211.8" stroke="#444" stroke-width="0.9"  shape-rendering="crispEdges"/>
<text x="213.8" y="207.20000000000002" font-family='"Liberation Sans", sans-serif' font-size="5" font-weight="bold" text-anchor="middle" fill="#222" >5</text>
<line x1="222.0" y1="208.8" x2="231.39999999999998" y2="208.8" stroke="#000" stroke-width="2.0" />
<line x1="226.7" y1="205.0" x2="226.7" y2="211.8" stroke="#444" stroke-width="0.9"  shape-rendering="crispEdges"/>
<text x="226.7" y="207.20000000000002" font-family='"Liberation Sans", sans-serif' font-size="5" font-weight="bold" text-anchor="middle" fill="#222" >6</text>
<line x1="235.0" y1="208.8" x2="244.39999999999998" y2="208.8" stroke="#000" stroke-width="2.0" />
<line x1="239.7" y1="205.0" x2="239.7" y2="211.8" stroke="#444" stroke-width="0.9"  shape-rendering="crispEdges"/>
<text x="239.7" y="207.20000000000002" font-family='"Liberation Sans", sans-serif' font-size="5" font-weight="bold" text-anchor="middle" fill="#222" >7</text>
<line x1="247.8" y1="208.8" x2="257.2" y2="208.8" stroke="#000" stroke-width="2.0" />
<line x1="252.5" y1="205.0" x2="252.5" y2="211.8" stroke="#444" stroke-width="0.9"  shape-rendering="crispEdges"/>
<text x="252.5" y="207.20000000000002" font-family='"Liberation Sans", sans-serif' font-size="5" font-weight="bold" text-anchor="middle" fill="#222" >8</text>
<line x1="209.10000000000002" y1="227.2" x2="218.5" y2="227.2" stroke="#000" stroke-width="2.0" />
<line x1="213.8" y1="223.39999999999998" x2="213.8" y2="230.2" stroke="#444" stroke-width="0.9"  shape-rendering="crispEdges"/>
<text x="213.8" y="225.6" font-family='"Liberation Sans", sans-serif' font-size="5" font-weight="bold" text-anchor="middle" fill="#222" >9</text>
<line x1="222.0" y1="227.2" x2="231.39999999999998" y2="227.2" stroke="#000" stroke-width="2.0" />
<line x1="226.7" y1="223.39999999999998" x2="226.7" y2="230.2" stroke="#444" stroke-width="0.9"  shape-rendering="crispEdges"/>
<text x="226.7" y="225.6" font-family='"Liberation Sans", sans-serif' font-size="5" font-weight="bold" text-anchor="middle" fill="#222" >10</text>
<line x1="235.0" y1="227.2" x2="244.39999999999998" y2="227.2" stroke="#000" stroke-width="2.0" />
<line x1="239.7" y1="223.39999999999998" x2="239.7" y2="230.2" stroke="#444" stroke-width="0.9"  shape-rendering="crispEdges"/>
<text x="239.7" y="225.6" font-family='"Liberation Sans", sans-serif' font-size="5" font-weight="bold" text-anchor="middle" fill="#222" >11</text>
<line x1="247.8" y1="227.2" x2="257.2" y2="227.2" stroke="#000" stroke-width="2.0" />
<line x1="252.5" y1="223.39999999999998" x2="252.5" y2="230.2" stroke="#444" stroke-width="0.9"  shape-rendering="crispEdges"/>
<text x="252.5" y="225.6" font-family='"Liberation Sans", sans-serif' font-size="5" font-weight="bold" text-anchor="middle" fill="#222" >12</text>
<line x1="205.6" y1="234.1" x2="260.9" y2="234.1" stroke="#161616" stroke-width="0.9"  shape-rendering="crispEdges"/>
<circle cx="214.1" cy="245.5" r="6.6" fill="#fff" stroke="#161616" stroke-width="1.1"/>
<line x1="209.5" y1="245.5" x2="218.7" y2="245.5" stroke="#000" stroke-width="1.8" />
<line x1="214.1" y1="242.3" x2="214.1" y2="248.2" stroke="#161616" stroke-width="0.7"  shape-rendering="crispEdges"/>
<text x="214.6" y="244.2" font-family='"Liberation Sans", sans-serif' font-size="4.6" font-weight="bold" text-anchor="middle" fill="#222" >13</text>
<circle cx="252.4" cy="245.5" r="6.6" fill="#fff" stroke="#161616" stroke-width="1.1"/>
<line x1="247.8" y1="245.5" x2="257.0" y2="245.5" stroke="#000" stroke-width="1.8" />
<line x1="252.4" y1="242.3" x2="252.4" y2="248.2" stroke="#161616" stroke-width="0.7"  shape-rendering="crispEdges"/>
<text x="252.9" y="244.2" font-family='"Liberation Sans", sans-serif' font-size="4.6" font-weight="bold" text-anchor="middle" fill="#222" >14</text>
<circle cx="233.4" cy="244.9" r="11.2" fill="#fff" stroke="#161616" stroke-width="1.1"/>
<circle cx="233.4" cy="244.9" r="7.8" fill="none" stroke="#161616" stroke-width="1.0"/>
<circle cx="233.4" cy="244.9" r="6.5" fill="none" stroke="#444" stroke-width="1.1"/>
<path d="M232.5,240.6 H234.3 Q235.20000000000002,240.6 235.20000000000002,241.5 V243.1 H236.8 Q237.70000000000002,243.1 237.70000000000002,244.0 V245.8 Q237.70000000000002,246.70000000000002 236.8,246.70000000000002 H235.20000000000002 V248.3 Q235.20000000000002,249.20000000000002 234.3,249.20000000000002 H232.5 Q231.6,249.20000000000002 231.6,248.3 V246.70000000000002 H230.0 Q229.1,246.70000000000002 229.1,245.8 V244.0 Q229.1,243.1 230.0,243.1 H231.6 V241.5 Q231.6,240.6 232.5,240.6 Z" fill="#fff" stroke="#161616" stroke-width="0.9"/>
<line x1="233.3" y1="231" x2="233.3" y2="266" stroke="#161616" stroke-width="0.9"  shape-rendering="crispEdges"/>
<path d="M210.3,262 V256.3 H219 V262 M247.6,262 V256.3 H255.8 V262" fill="none" stroke="#161616" stroke-width="0.9"/>
</g>
<g>
<rect x="148.0" y="393.9" width="12" height="4.8" fill="#000"/>
<rect x="148.0" y="427.9" width="12" height="4.8" fill="#000"/>
<rect x="148.0" y="467.7" width="12" height="5" fill="#000"/>
<path d="M160.05,396.5 H164.95 V404" fill="none" stroke="#1e1e1e" stroke-width="0.95"/>
<polygon points="160.85,403.3 169.05,403.3 164.95,409.8" fill="#000"/>
<rect x="161.05" y="409.2" width="13.6" height="2.5" rx="1" fill="#000"/>
<path d="M173.85,411 V469.9 H160.05" fill="none" stroke="#1e1e1e" stroke-width="0.95"/>
<polygon points="164.95,416.4 168.25,422.3 161.65,422.3" fill="#fff" stroke="#1e1e1e" stroke-width="0.95"/>
<path d="M164.95,422.6 V430.2 H160.05" fill="none" stroke="#1e1e1e" stroke-width="0.95"/>
<text transform="translate(153.95,408.7) scale(0.9,1)" x="0" y="0" font-family='"Liberation Sans", sans-serif' font-size="10.4" text-anchor="middle" fill="#2b2b2b" stroke="#2b2b2b" stroke-width="0.18">1</text>
<text transform="translate(153.85,443.2) scale(0.86,1)" x="0" y="0" font-family='"Liberation Sans", sans-serif' font-size="11" text-anchor="middle" fill="#2b2b2b" stroke="#2b2b2b" stroke-width="0.18">5</text>
<text transform="translate(154.05,483) scale(0.86,1)" x="0" y="0" font-family='"Liberation Sans", sans-serif' font-size="11" text-anchor="middle" fill="#2b2b2b" stroke="#2b2b2b" stroke-width="0.18">9</text>
<rect x="182.5" y="393.9" width="12" height="4.8" fill="#000"/>
<rect x="182.5" y="427.9" width="12" height="4.8" fill="#000"/>
<rect x="182.5" y="467.7" width="12" height="5" fill="#000"/>
<path d="M194.55,396.5 H199.45 V404" fill="none" stroke="#1e1e1e" stroke-width="0.95"/>
<polygon points="195.35,403.3 203.55,403.3 199.45,409.8" fill="#000"/>
<rect x="195.55" y="409.2" width="13.6" height="2.5" rx="1" fill="#000"/>
<path d="M208.35,411 V469.9 H194.55" fill="none" stroke="#1e1e1e" stroke-width="0.95"/>
<polygon points="199.45,416.4 202.75,422.3 196.15,422.3" fill="#fff" stroke="#1e1e1e" stroke-width="0.95"/>
<path d="M199.45,422.6 V430.2 H194.55" fill="none" stroke="#1e1e1e" stroke-width="0.95"/>
<text transform="translate(188.45,408.7) scale(0.9,1)" x="0" y="0" font-family='"Liberation Sans", sans-serif' font-size="10.4" text-anchor="middle" fill="#2b2b2b" stroke="#2b2b2b" stroke-width="0.18">2</text>
<text transform="translate(188.35,443.2) scale(0.86,1)" x="0" y="0" font-family='"Liberation Sans", sans-serif' font-size="11" text-anchor="middle" fill="#2b2b2b" stroke="#2b2b2b" stroke-width="0.18">6</text>
<text transform="translate(188.55,483) scale(0.86,1)" x="0" y="0" font-family='"Liberation Sans", sans-serif' font-size="11" text-anchor="middle" fill="#2b2b2b" stroke="#2b2b2b" stroke-width="0.18">10</text>
<rect x="217.0" y="393.9" width="12" height="4.8" fill="#000"/>
<rect x="217.0" y="427.9" width="12" height="4.8" fill="#000"/>
<rect x="217.0" y="467.7" width="12" height="5" fill="#000"/>
<path d="M229.05,396.5 H233.95 V404" fill="none" stroke="#1e1e1e" stroke-width="0.95"/>
<polygon points="229.85,403.3 238.05,403.3 233.95,409.8" fill="#000"/>
<rect x="230.05" y="409.2" width="13.6" height="2.5" rx="1" fill="#000"/>
<path d="M242.85,411 V469.9 H229.05" fill="none" stroke="#1e1e1e" stroke-width="0.95"/>
<polygon points="233.95,416.4 237.25,422.3 230.65,422.3" fill="#fff" stroke="#1e1e1e" stroke-width="0.95"/>
<path d="M233.95,422.6 V430.2 H229.05" fill="none" stroke="#1e1e1e" stroke-width="0.95"/>
<text transform="translate(222.95,408.7) scale(0.9,1)" x="0" y="0" font-family='"Liberation Sans", sans-serif' font-size="10.4" text-anchor="middle" fill="#2b2b2b" stroke="#2b2b2b" stroke-width="0.18">3</text>
<text transform="translate(222.85,443.2) scale(0.86,1)" x="0" y="0" font-family='"Liberation Sans", sans-serif' font-size="11" text-anchor="middle" fill="#2b2b2b" stroke="#2b2b2b" stroke-width="0.18">7</text>
<text transform="translate(223.05,483) scale(0.86,1)" x="0" y="0" font-family='"Liberation Sans", sans-serif' font-size="11" text-anchor="middle" fill="#2b2b2b" stroke="#2b2b2b" stroke-width="0.18">11</text>
<rect x="251.5" y="393.9" width="12" height="4.8" fill="#000"/>
<rect x="251.5" y="427.9" width="12" height="4.8" fill="#000"/>
<rect x="251.5" y="467.7" width="12" height="5" fill="#000"/>
<path d="M263.55,396.5 H268.45 V404" fill="none" stroke="#1e1e1e" stroke-width="0.95"/>
<polygon points="264.35,403.3 272.55,403.3 268.45,409.8" fill="#000"/>
<rect x="264.55" y="409.2" width="13.6" height="2.5" rx="1" fill="#000"/>
<path d="M277.35,411 V469.9 H263.55" fill="none" stroke="#1e1e1e" stroke-width="0.95"/>
<polygon points="268.45,416.4 271.75,422.3 265.15,422.3" fill="#fff" stroke="#1e1e1e" stroke-width="0.95"/>
<path d="M268.45,422.6 V430.2 H263.55" fill="none" stroke="#1e1e1e" stroke-width="0.95"/>
<text transform="translate(257.45,408.7) scale(0.9,1)" x="0" y="0" font-family='"Liberation Sans", sans-serif' font-size="10.4" text-anchor="middle" fill="#2b2b2b" stroke="#2b2b2b" stroke-width="0.18">4</text>
<text transform="translate(257.35,443.2) scale(0.86,1)" x="0" y="0" font-family='"Liberation Sans", sans-serif' font-size="11" text-anchor="middle" fill="#2b2b2b" stroke="#2b2b2b" stroke-width="0.18">8</text>
<text transform="translate(257.55,483) scale(0.86,1)" x="0" y="0" font-family='"Liberation Sans", sans-serif' font-size="11" text-anchor="middle" fill="#2b2b2b" stroke="#2b2b2b" stroke-width="0.18">12</text>
<rect x="148" y="508.2" width="12" height="5.4" fill="#000"/>
<rect x="251.5" y="508.2" width="12" height="5.4" fill="#000"/>
<path d="M160,510.8 H186.6 C188.6,510.8 187.2,504.5 192.2,504.5 C195.9,504.5 199.6,508.2 199.6,511.4 C199.6,513.8 198.8,515.3 197.5,515.3 C196.2,515.3 195.4,513.8 195.4,511.4 C195.4,508.2 197.3,504.5 201.4,504.5 C204.1,504.5 207.79999999999998,508.2 207.79999999999998,511.4 C207.79999999999998,513.8 207.0,515.3 205.7,515.3 C204.39999999999998,515.3 203.6,513.8 203.6,511.4 C203.6,508.2 205.5,504.5 209.6,504.5 C212.3,504.5 216.0,508.2 216.0,511.4 C216.0,513.8 215.20000000000002,515.3 213.9,515.3 C212.6,515.3 211.8,513.8 211.8,511.4 C211.8,508.2 213.70000000000002,504.5 217.8,504.5 C223.4,504.5 222.4,510.8 224.6,510.8 H251.75" fill="none" stroke="#1e1e1e" stroke-width="1.1"/>
<text transform="translate(154.5,523.7) scale(0.86,1)" x="0" y="0" font-family='"Liberation Sans", sans-serif' font-size="11" text-anchor="middle" fill="#2b2b2b" stroke="#2b2b2b" stroke-width="0.18" textLength="30.00" lengthAdjust="spacing">13(−)</text>
<text transform="translate(257.9,523.7) scale(0.86,1)" x="0" y="0" font-family='"Liberation Sans", sans-serif' font-size="11" text-anchor="middle" fill="#2b2b2b" stroke="#2b2b2b" stroke-width="0.18" textLength="30.00" lengthAdjust="spacing">14(+)</text>
</g>
<g transform="translate(291.3,-0.5)">
<rect x="148.0" y="393.9" width="12" height="4.8" fill="#000"/>
<rect x="148.0" y="427.9" width="12" height="4.8" fill="#000"/>
<rect x="148.0" y="467.7" width="12" height="5" fill="#000"/>
<path d="M160.05,396.5 H164.95 V404" fill="none" stroke="#1e1e1e" stroke-width="0.95"/>
<polygon points="160.85,403.3 169.05,403.3 164.95,409.8" fill="#000"/>
<rect x="161.05" y="409.2" width="13.6" height="2.5" rx="1" fill="#000"/>
<path d="M173.85,411 V469.9 H160.05" fill="none" stroke="#1e1e1e" stroke-width="0.95"/>
<polygon points="164.95,416.4 168.25,422.3 161.65,422.3" fill="#fff" stroke="#1e1e1e" stroke-width="0.95"/>
<path d="M164.95,422.6 V430.2 H160.05" fill="none" stroke="#1e1e1e" stroke-width="0.95"/>
<text transform="translate(153.95,408.7) scale(0.9,1)" x="0" y="0" font-family='"Liberation Sans", sans-serif' font-size="10.4" text-anchor="middle" fill="#2b2b2b" stroke="#2b2b2b" stroke-width="0.18">1</text>
<text transform="translate(153.85,443.2) scale(0.86,1)" x="0" y="0" font-family='"Liberation Sans", sans-serif' font-size="11" text-anchor="middle" fill="#2b2b2b" stroke="#2b2b2b" stroke-width="0.18">5</text>
<text transform="translate(154.05,483) scale(0.86,1)" x="0" y="0" font-family='"Liberation Sans", sans-serif' font-size="11" text-anchor="middle" fill="#2b2b2b" stroke="#2b2b2b" stroke-width="0.18">9</text>
<rect x="182.5" y="393.9" width="12" height="4.8" fill="#000"/>
<rect x="182.5" y="427.9" width="12" height="4.8" fill="#000"/>
<rect x="182.5" y="467.7" width="12" height="5" fill="#000"/>
<path d="M194.55,396.5 H199.45 V404" fill="none" stroke="#1e1e1e" stroke-width="0.95"/>
<polygon points="195.35,403.3 203.55,403.3 199.45,409.8" fill="#000"/>
<rect x="195.55" y="409.2" width="13.6" height="2.5" rx="1" fill="#000"/>
<path d="M208.35,411 V469.9 H194.55" fill="none" stroke="#1e1e1e" stroke-width="0.95"/>
<polygon points="199.45,416.4 202.75,422.3 196.15,422.3" fill="#fff" stroke="#1e1e1e" stroke-width="0.95"/>
<path d="M199.45,422.6 V430.2 H194.55" fill="none" stroke="#1e1e1e" stroke-width="0.95"/>
<text transform="translate(188.45,408.7) scale(0.9,1)" x="0" y="0" font-family='"Liberation Sans", sans-serif' font-size="10.4" text-anchor="middle" fill="#2b2b2b" stroke="#2b2b2b" stroke-width="0.18">2</text>
<text transform="translate(188.35,443.2) scale(0.86,1)" x="0" y="0" font-family='"Liberation Sans", sans-serif' font-size="11" text-anchor="middle" fill="#2b2b2b" stroke="#2b2b2b" stroke-width="0.18">6</text>
<text transform="translate(188.55,483) scale(0.86,1)" x="0" y="0" font-family='"Liberation Sans", sans-serif' font-size="11" text-anchor="middle" fill="#2b2b2b" stroke="#2b2b2b" stroke-width="0.18">10</text>
<rect x="217.0" y="393.9" width="12" height="4.8" fill="#000"/>
<rect x="217.0" y="427.9" width="12" height="4.8" fill="#000"/>
<rect x="217.0" y="467.7" width="12" height="5" fill="#000"/>
<path d="M229.05,396.5 H233.95 V404" fill="none" stroke="#1e1e1e" stroke-width="0.95"/>
<polygon points="229.85,403.3 238.05,403.3 233.95,409.8" fill="#000"/>
<rect x="230.05" y="409.2" width="13.6" height="2.5" rx="1" fill="#000"/>
<path d="M242.85,411 V469.9 H229.05" fill="none" stroke="#1e1e1e" stroke-width="0.95"/>
<polygon points="233.95,416.4 237.25,422.3 230.65,422.3" fill="#fff" stroke="#1e1e1e" stroke-width="0.95"/>
<path d="M233.95,422.6 V430.2 H229.05" fill="none" stroke="#1e1e1e" stroke-width="0.95"/>
<text transform="translate(222.95,408.7) scale(0.9,1)" x="0" y="0" font-family='"Liberation Sans", sans-serif' font-size="10.4" text-anchor="middle" fill="#2b2b2b" stroke="#2b2b2b" stroke-width="0.18">3</text>
<text transform="translate(222.85,443.2) scale(0.86,1)" x="0" y="0" font-family='"Liberation Sans", sans-serif' font-size="11" text-anchor="middle" fill="#2b2b2b" stroke="#2b2b2b" stroke-width="0.18">7</text>
<text transform="translate(223.05,483) scale(0.86,1)" x="0" y="0" font-family='"Liberation Sans", sans-serif' font-size="11" text-anchor="middle" fill="#2b2b2b" stroke="#2b2b2b" stroke-width="0.18">11</text>
<rect x="251.5" y="393.9" width="12" height="4.8" fill="#000"/>
<rect x="251.5" y="427.9" width="12" height="4.8" fill="#000"/>
<rect x="251.5" y="467.7" width="12" height="5" fill="#000"/>
<path d="M263.55,396.5 H268.45 V404" fill="none" stroke="#1e1e1e" stroke-width="0.95"/>
<polygon points="264.35,403.3 272.55,403.3 268.45,409.8" fill="#000"/>
<rect x="264.55" y="409.2" width="13.6" height="2.5" rx="1" fill="#000"/>
<path d="M277.35,411 V469.9 H263.55" fill="none" stroke="#1e1e1e" stroke-width="0.95"/>
<polygon points="268.45,416.4 271.75,422.3 265.15,422.3" fill="#fff" stroke="#1e1e1e" stroke-width="0.95"/>
<path d="M268.45,422.6 V430.2 H263.55" fill="none" stroke="#1e1e1e" stroke-width="0.95"/>
<text transform="translate(257.45,408.7) scale(0.9,1)" x="0" y="0" font-family='"Liberation Sans", sans-serif' font-size="10.4" text-anchor="middle" fill="#2b2b2b" stroke="#2b2b2b" stroke-width="0.18">4</text>
<text transform="translate(257.35,443.2) scale(0.86,1)" x="0" y="0" font-family='"Liberation Sans", sans-serif' font-size="11" text-anchor="middle" fill="#2b2b2b" stroke="#2b2b2b" stroke-width="0.18">8</text>
<text transform="translate(257.55,483) scale(0.86,1)" x="0" y="0" font-family='"Liberation Sans", sans-serif' font-size="11" text-anchor="middle" fill="#2b2b2b" stroke="#2b2b2b" stroke-width="0.18">12</text>
<rect x="148" y="508.2" width="12" height="5.4" fill="#000"/>
<rect x="251.5" y="508.2" width="12" height="5.4" fill="#000"/>
<path d="M160,510.8 H186.6 C188.6,510.8 187.2,504.5 192.2,504.5 C195.9,504.5 199.6,508.2 199.6,511.4 C199.6,513.8 198.8,515.3 197.5,515.3 C196.2,515.3 195.4,513.8 195.4,511.4 C195.4,508.2 197.3,504.5 201.4,504.5 C204.1,504.5 207.79999999999998,508.2 207.79999999999998,511.4 C207.79999999999998,513.8 207.0,515.3 205.7,515.3 C204.39999999999998,515.3 203.6,513.8 203.6,511.4 C203.6,508.2 205.5,504.5 209.6,504.5 C212.3,504.5 216.0,508.2 216.0,511.4 C216.0,513.8 215.20000000000002,515.3 213.9,515.3 C212.6,515.3 211.8,513.8 211.8,511.4 C211.8,508.2 213.70000000000002,504.5 217.8,504.5 C223.4,504.5 222.4,510.8 224.6,510.8 H251.75" fill="none" stroke="#1e1e1e" stroke-width="1.1"/>
<text transform="translate(154.5,523.7) scale(0.86,1)" x="0" y="0" font-family='"Liberation Sans", sans-serif' font-size="11" text-anchor="middle" fill="#2b2b2b" stroke="#2b2b2b" stroke-width="0.18" textLength="30.00" lengthAdjust="spacing">13(−)</text>
<text transform="translate(257.9,523.7) scale(0.86,1)" x="0" y="0" font-family='"Liberation Sans", sans-serif' font-size="11" text-anchor="middle" fill="#2b2b2b" stroke="#2b2b2b" stroke-width="0.18" textLength="30.00" lengthAdjust="spacing">14(+)</text>
</g>
</svg></body></html>
